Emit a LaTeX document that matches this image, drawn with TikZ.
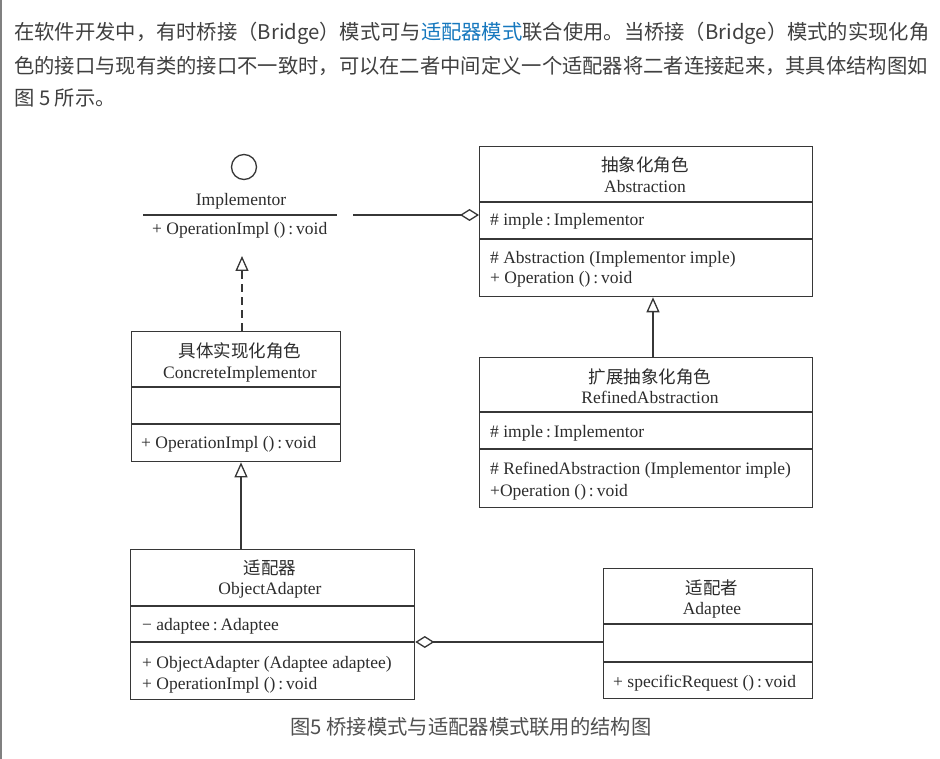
\documentclass[tikz,border=0pt]{standalone}
\usepackage{fontspec}
\setmainfont{Liberation Serif}
\newfontfamily\cjk{Noto Sans CJK SC}
\usetikzlibrary{arrows.meta}
\definecolor{lc}{RGB}{55,55,55}
\definecolor{tc}{RGB}{45,45,45}
\definecolor{ptc}{RGB}{64,64,64}
\definecolor{link}{RGB}{22,120,190}
\definecolor{capc}{RGB}{80,80,80}
\definecolor{edge}{RGB}{128,128,128}
\newcommand{\dfont}{\fontsize{17.5}{21}\selectfont}
\newcommand{\pfont}{\cjk\fontsize{20.3}{24}\selectfont}
\tikzset{
  uline/.style={draw=lc, line width=1.3pt},
  cls/.style={draw=lc, line width=1.3pt, rectangle, inner sep=0pt, anchor=north west},
  ttl/.style={font=\dfont, text=tc, anchor=base, inner sep=0pt},
  cttl/.style={font=\cjk\dfont, text=tc, anchor=base, inner sep=0pt},
  mem/.style={font=\dfont, text=tc, anchor=base west, inner sep=0pt},
  para/.style={font=\pfont, text=ptc, anchor=base west, inner sep=0pt},
  diamondtip/.style={-{Diamond[open, length=19pt, width=12pt]}},
  triangletip/.style={-{Triangle[open, length=15pt, width=13pt]}},
}
\begin{document}
\begin{tikzpicture}[x=1pt, y=-1pt]
\useasboundingbox (0,0) rectangle (940,759);
\fill[white] (0,0) rectangle (940,759);
\fill[edge] (0,0) rectangle (2,759);

% paragraph
\node[para] (p1) at (14,40) {在软件开发中，有时桥接（Bridge）模式可与{\color{link}适配器模式}联合使用。当桥接（Bridge）模式的实现化角};
\node[para] (p2) at (14,74) {色的接口与现有类的接口不一致时，可以在二者中间定义一个适配器将二者连接起来，其具体结构图如};
\node[para] (p3) at (14,106) {图 5 所示。};

% Implementor interface
\node[circle, draw=lc, line width=1.3pt, minimum size=25pt, inner sep=0pt] (implc) at (244,167) {};
\node[ttl] (impl) at (241,206) {Implementor};
\draw[uline] (143,215) -- (337,215);
\node[mem] (implop) at (152,235) {+ OperationImpl ()\,:\,void};
\coordinate (implR) at (353,215);
\coordinate (implB) at (242,256);

% Abstraction
\node[cls, minimum width=333pt, minimum height=150pt] (abs) at (479,146) {};
\draw[uline] (479,202) -- (812,202);
\draw[uline] (479,239) -- (812,239);
\node[cttl] (absc) at (645,172) {抽象化角色};
\node[ttl] (abst) at (645,193) {Abstraction};
\node[mem] (absa) at (490,226) {\# imple\,:\,Implementor};
\node[mem] (absm1) at (490,264) {\# Abstraction (Implementor imple)};
\node[mem] (absm2) at (490,284) {+ Operation ()\,:\,void};

% RefinedAbstraction
\node[cls, minimum width=333pt, minimum height=150pt] (ref) at (479,357) {};
\draw[uline] (479,412) -- (812,412);
\draw[uline] (479,449) -- (812,449);
\node[cttl] (refc) at (650,383) {扩展抽象化角色};
\node[ttl] (reft) at (650,403) {RefinedAbstraction};
\node[mem] (refa) at (490,437) {\# imple\,:\,Implementor};
\node[mem] (refm1) at (490,474) {\# RefinedAbstraction (Implementor imple)};
\node[mem] (refm2) at (490,496) {+Operation ()\,:\,void};
\coordinate (ga) at (653,0);

% ConcreteImplementor
\node[cls, minimum width=209pt, minimum height=130pt] (conc) at (131,331) {};
\draw[uline] (131,387) -- (340,387);
\draw[uline] (131,424) -- (340,424);
\node[cttl] (concc) at (240,358) {具体实现化角色};
\node[ttl] (conct) at (240,378) {ConcreteImplementor};
\node[mem] (concm) at (141,448) {+ OperationImpl ()\,:\,void};
\coordinate (gc) at (241,0);

% ObjectAdapter
\node[cls, minimum width=284pt, minimum height=150pt] (oa) at (130,549) {};
\draw[uline] (130,606) -- (414,606);
\draw[uline] (130,642) -- (414,642);
\node[cttl] (oac) at (270,574) {适配器};
\node[ttl] (oat) at (270,594) {ObjectAdapter};
\node[mem] (oaa) at (142,630) {− adaptee\,:\,Adaptee};
\node[mem] (oam1) at (142,668) {+ ObjectAdapter (Adaptee adaptee)};
\node[mem] (oam2) at (142,689) {+ OperationImpl ()\,:\,void};

% Adaptee
\node[cls, minimum width=209pt, minimum height=130pt] (adt) at (603,568) {};
\draw[uline] (603,624) -- (812,624);
\draw[uline] (603,662) -- (812,662);
\node[cttl] (adtc) at (712,594) {适配者};
\node[ttl] (adtt) at (712,614) {Adaptee};
\node[mem] (adtm) at (613,687) {+ specificRequest ()\,:\,void};
\coordinate (agg) at (0,642);

% connectors
\draw[uline, diamondtip] (implR) -- (implR -| abs.west);
\draw[uline, dash pattern=on 8pt off 5pt, triangletip] (implB |- conc.north) -- (implB);
\draw[uline, triangletip] (ga |- ref.north) -- (ga |- abs.south);
\draw[uline, triangletip] (gc |- oa.north) -- (gc |- conc.south);
\draw[uline, diamondtip] (agg -| adt.west) -- (agg -| oa.east);

% caption
\node[font=\pfont, text=capc, anchor=base, inner sep=0pt] (cap) at (471,734) {图5 桥接模式与适配器模式联用的结构图};
\end{tikzpicture}
\end{document}
